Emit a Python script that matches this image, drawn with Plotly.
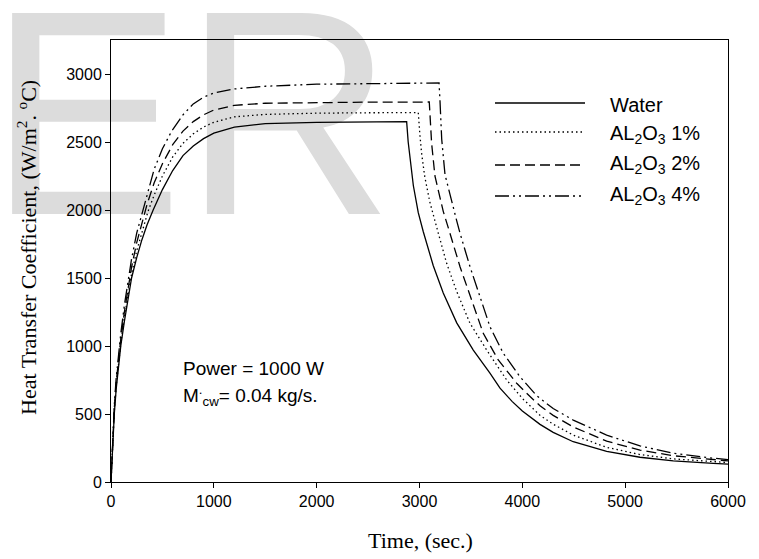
import plotly.graph_objects as go

# ---------------- data ----------------
t_water = [0, 10, 20, 32, 50, 70, 95, 130, 160, 200, 250, 300, 350, 410, 500, 600, 700, 800, 900,
           1000, 1200, 1500, 2000, 2500, 2875, 2890, 2908, 2940, 2988, 3037, 3134, 3231, 3362,
           3523, 3685, 3783, 3900, 4000, 4172, 4300, 4495, 4820, 5144, 5468, 5857, 6000]
h_water = [0, 180, 330, 500, 680, 830, 1000, 1180, 1320, 1500, 1650, 1780, 1890, 2000, 2150, 2290,
           2400, 2470, 2525, 2565, 2610, 2635, 2645, 2648, 2650, 2500, 2370, 2180, 1980, 1840,
           1590, 1390, 1170, 970, 800, 690, 593, 522, 424, 365, 296, 225, 182, 155, 137, 132]

t_al1 = [0, 10, 20, 32, 50, 70, 95, 130, 160, 200, 250, 300, 360, 420, 500, 600, 700, 800, 900,
         1000, 1200, 1500, 2000, 2500, 2988, 3003, 3020, 3050, 3100, 3183, 3264, 3362, 3491,
         3653, 3848, 4000, 4172, 4300, 4495, 4820, 5144, 5468, 5857, 6000]
h_al1 = [0, 190, 345, 520, 700, 850, 1020, 1210, 1350, 1530, 1700, 1840, 1990, 2110, 2250, 2390,
         2490, 2560, 2610, 2645, 2685, 2703, 2712, 2715, 2716, 2560, 2420, 2250, 2060, 1829,
         1608, 1400, 1167, 971, 750, 615, 490, 425, 345, 255, 202, 170, 149, 143]

t_al2 = [0, 10, 20, 32, 50, 70, 95, 130, 160, 200, 250, 300, 350, 420, 500, 600, 700, 800, 900,
         1000, 1200, 1500, 2000, 2500, 3095, 3105, 3118, 3150, 3190, 3231, 3296, 3394, 3507,
         3620, 3766, 3945, 4042, 4172, 4300, 4495, 4820, 5144, 5468, 5857, 6000]
h_al2 = [0, 200, 360, 540, 730, 880, 1050, 1250, 1400, 1580, 1760, 1910, 2040, 2200, 2340, 2480,
         2580, 2650, 2700, 2735, 2770, 2785, 2790, 2793, 2794, 2660, 2490, 2250, 2110, 1990,
         1829, 1583, 1338, 1093, 897, 726, 652, 560, 490, 405, 300, 235, 193, 163, 155]

t_al4 = [0, 10, 20, 32, 50, 70, 95, 130, 160, 200, 250, 311, 350, 420, 500, 590, 700, 800, 900,
         1000, 1200, 1500, 2000, 2500, 3190, 3199, 3216, 3248, 3296, 3362, 3394, 3491, 3588,
         3685, 3815, 3977, 4139, 4300, 4495, 4820, 5144, 5468, 5857, 6000]
h_al4 = [0, 210, 380, 560, 760, 920, 1090, 1300, 1460, 1640, 1830, 2000, 2120, 2300, 2450, 2580,
         2700, 2780, 2830, 2860, 2890, 2910, 2925, 2930, 2934, 2809, 2520, 2260, 2110, 1920,
         1829, 1583, 1363, 1142, 946, 774, 635, 540, 455, 345, 265, 212, 175, 165]

series_names = ["Water", "AL<sub>2</sub>O<sub>3</sub> 1%", "AL<sub>2</sub>O<sub>3</sub> 2%",
                "AL<sub>2</sub>O<sub>3</sub> 4%"]
x_ticks = [0, 1000, 2000, 3000, 4000, 5000, 6000]
y_ticks = [0, 500, 1000, 1500, 2000, 2500, 3000]

# ---------------- styling ----------------
# the page body has an 8px margin, so the figure is shrunk by that amount
OFF = 8
W, H = 759 - OFF, 559 - OFF
PL, PR, PT, PB = 111, 728, 40, 482          # plot box in page pixels
ML, MR, MT, MB = PL - OFF, W - (PR - OFF), PT - OFF, H - (PB - OFF)
PW, PH = PR - PL, PB - PT


def px(xp):
    return (xp - PL) / PW


def py(yp):
    return (PB - yp) / PH


dashes = ["solid", "1.5px,3px", "10px,5px", "14px,4px,2px,4px,2px,4px"]
xs = [t_water, t_al1, t_al2, t_al4]
ys = [h_water, h_al1, h_al2, h_al4]

fig = go.Figure()
for name, x, y, d in zip(series_names, xs, ys, dashes):
    fig.add_trace(go.Scatter(x=x, y=y, mode="lines", name=name, showlegend=False,
                             line=dict(color="black", width=1.3, dash=d)))

shapes = []
annotations = []

# watermark (drawn below everything)
shapes.append(dict(type="rect", xref="paper", yref="paper",
                   x0=px(190), x1=px(192), y0=py(86), y1=py(84),
                   line=dict(width=0), fillcolor="rgba(0,0,0,0)", layer="below",
                   label=dict(text="ER", textposition="middle center", padding=0,
                              font=dict(family="Liberation Sans, Arial", size=292,
                                        color="#dcdcdc"))))

# custom legend
leg_line_y = [103, 132, 165, 196]
leg_text_y = [105, 134, 164, 195]
for name, d, ly, ty in zip(series_names, dashes, leg_line_y, leg_text_y):
    shapes.append(dict(type="line", xref="paper", yref="paper",
                       x0=px(495), x1=px(585), y0=py(ly), y1=py(ly),
                       line=dict(color="black", width=1.3, dash=d)))
    annotations.append(dict(text=name, xref="paper", yref="paper", x=px(608), y=py(ty),
                            xanchor="left", yanchor="middle", showarrow=False,
                            font=dict(family="Liberation Sans, Arial", size=20, color="black")))

annotations.append(dict(text="Power = 1000 W", xref="paper", yref="paper", x=px(181), y=py(368),
                        xanchor="left", yanchor="middle", showarrow=False,
                        font=dict(family="Liberation Sans, Arial", size=19, color="black")))
annotations.append(dict(text="M<sup>.</sup><sub>cw</sub>= 0.04 kg/s.", xref="paper", yref="paper",
                        x=px(181), y=py(395), xanchor="left", yanchor="middle", showarrow=False,
                        font=dict(family="Liberation Sans, Arial", size=19, color="black")))

# axis titles
annotations.append(dict(text="Time, (sec.)", xref="paper", yref="paper", x=px(420), y=py(540),
                        xanchor="center", yanchor="middle", showarrow=False,
                        font=dict(family="Liberation Serif, Times New Roman", size=22,
                                  color="black")))
annotations.append(dict(text="Heat Transfer Coefficient, (W/m<sup>2</sup>. <sup>o</sup>C)",
                        xref="paper", yref="paper", x=px(27), y=py(248), textangle=-90,
                        xanchor="center", yanchor="middle", showarrow=False,
                        font=dict(family="Liberation Serif, Times New Roman", size=22,
                                  color="black")))

axis_common = dict(showgrid=False, zeroline=False, showline=True, linecolor="black",
                   linewidth=1, mirror=True, ticks="outside", ticklen=5, tickwidth=1,
                   tickcolor="black",
                   tickfont=dict(family="Liberation Sans, Arial", size=16, color="black"))

fig.update_layout(
    width=W, height=H,
    margin=dict(l=ML, r=MR, t=MT, b=MB),
    paper_bgcolor="white", plot_bgcolor="rgba(0,0,0,0)",
    showlegend=False,
    shapes=shapes, annotations=annotations,
    xaxis=dict(range=[0, 6000], tickvals=x_ticks, **axis_common),
    yaxis=dict(range=[0, 3250], tickvals=y_ticks, **axis_common),
)

fig.write_html("out.html")
